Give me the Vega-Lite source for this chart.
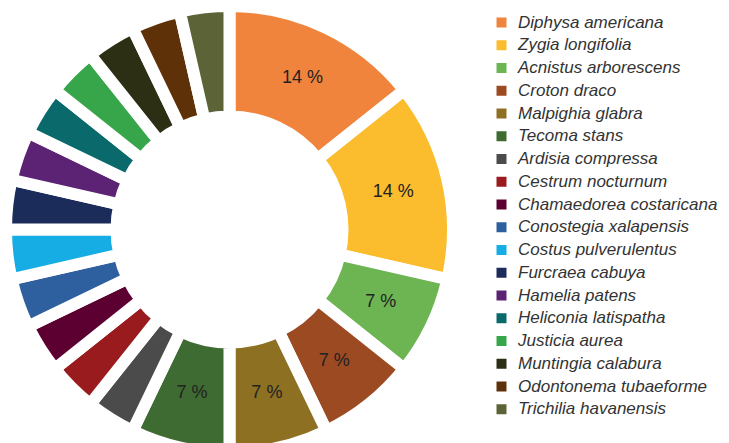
{
  "$schema": "https://vega.github.io/schema/vega-lite/v6.json",
  "width": 459,
  "height": 459,
  "autosize": {"type": "none"},
  "padding": {"left": 0, "top": 0, "right": 270, "bottom": 0},
  "background": "white",
  "config": {"view": {"stroke": null}},
  "data": {
    "values": [
      {"species": "Diphysa americana", "n": 4, "rank": 1, "label": "14 %"},
      {"species": "Zygia longifolia", "n": 4, "rank": 2, "label": "14 %"},
      {"species": "Acnistus arborescens", "n": 2, "rank": 3, "label": "7 %"},
      {"species": "Croton draco", "n": 2, "rank": 4, "label": "7 %"},
      {"species": "Malpighia glabra", "n": 2, "rank": 5, "label": "7 %"},
      {"species": "Tecoma stans", "n": 2, "rank": 6, "label": "7 %"},
      {"species": "Ardisia compressa", "n": 1, "rank": 7, "label": ""},
      {"species": "Cestrum nocturnum", "n": 1, "rank": 8, "label": ""},
      {"species": "Chamaedorea costaricana", "n": 1, "rank": 9, "label": ""},
      {"species": "Conostegia xalapensis", "n": 1, "rank": 10, "label": ""},
      {"species": "Costus pulverulentus", "n": 1, "rank": 11, "label": ""},
      {"species": "Furcraea cabuya", "n": 1, "rank": 12, "label": ""},
      {"species": "Hamelia patens", "n": 1, "rank": 13, "label": ""},
      {"species": "Heliconia latispatha", "n": 1, "rank": 14, "label": ""},
      {"species": "Justicia aurea", "n": 1, "rank": 15, "label": ""},
      {"species": "Muntingia calabura", "n": 1, "rank": 16, "label": ""},
      {"species": "Odontonema tubaeforme", "n": 1, "rank": 17, "label": ""},
      {"species": "Trichilia havanensis", "n": 1, "rank": 18, "label": ""}
    ]
  },
  "encoding": {
    "theta": {"field": "n", "type": "quantitative", "stack": true},
    "order": {"field": "rank", "type": "quantitative"}
  },
  "layer": [
    {
      "mark": {"type": "arc", "outerRadius": 223.5, "innerRadius": 113, "stroke": "white", "strokeWidth": 12},
      "encoding": {
        "color": {
          "field": "species",
          "type": "nominal",
          "sort": null,
          "scale": {
            "domain": ["Diphysa americana", "Zygia longifolia", "Acnistus arborescens", "Croton draco", "Malpighia glabra", "Tecoma stans", "Ardisia compressa", "Cestrum nocturnum", "Chamaedorea costaricana", "Conostegia xalapensis", "Costus pulverulentus", "Furcraea cabuya", "Hamelia patens", "Heliconia latispatha", "Justicia aurea", "Muntingia calabura", "Odontonema tubaeforme", "Trichilia havanensis"],
            "range": ["#F0843C", "#FBBC2D", "#6DB552", "#9C4A22", "#8E7023", "#3E6B31", "#4B4B4B", "#9A1B1E", "#5B0031", "#2E5F9E", "#16ADE4", "#1B2B5A", "#5C2273", "#0A6A6B", "#37A64A", "#2D2F15", "#5E3109", "#5C6437"]
          },
          "legend": {
            "title": null,
            "orient": "none",
            "legendX": 493,
            "legendY": 14,
            "symbolType": "square",
            "symbolSize": 100,
            "symbolStrokeWidth": 0,
            "symbolOpacity": 1,
            "labelFont": "Liberation Sans",
            "labelFontStyle": "italic",
            "labelFontSize": 17,
            "labelColor": "#333333",
            "labelOffset": 8,
            "labelLimit": 400,
            "rowPadding": 4.75,
            "padding": 0
          }
        }
      }
    },
    {
      "mark": {"type": "text", "radius": 168, "font": "Liberation Sans", "fontSize": 18, "color": "#222222"},
      "encoding": {"text": {"field": "label"}}
    }
  ]
}
